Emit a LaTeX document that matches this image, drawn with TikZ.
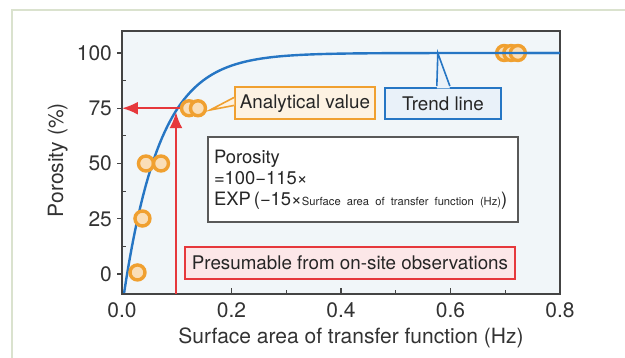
\documentclass[tikz,border=0pt]{standalone}
\usepackage{fontspec}
\setmainfont{TeX Gyre Heros}
\usetikzlibrary{arrows.meta,positioning,calc}

\definecolor{trendblue}{RGB}{38,118,196}
\definecolor{dotorange}{RGB}{240,160,48}
\definecolor{markred}{RGB}{230,56,60}
\definecolor{axisgray}{RGB}{68,68,68}
\definecolor{framegreen}{RGB}{218,226,206}
\definecolor{plotbg}{RGB}{241,246,249}

\tikzset{
	datadot/.style={circle, draw=dotorange, fill=dotorange!35, line width=1.7pt, minimum size=7.5pt, inner sep=0pt},
	tagbox/.style={line width=1pt, inner sep=0pt, minimum height=16pt, font=\fontsize{9.4}{11}\selectfont, text=black!85},
	readarrow/.style={markred, line width=1pt, -{Latex[length=8pt,width=6.5pt]}}
}

\begin{document}
\begin{tikzpicture}[xscale=9.6213, yscale=0.038837]
	\useasboundingbox (-0.2228,-38.01) rectangle (0.9187,123.98);
	%outer frame
	\draw[framegreen, line width=0.6pt] (-0.2009,-38.01) -- (-0.2009,119.46) -- (0.9187,119.46);
	
	%plot area
	\fill[plotbg] (0,-9.05) rectangle (0.8,109.95);
	
	%axes
	\foreach \x in {0.2, 0.4, 0.6}{
		\draw[axisgray, line width=0.6pt](\x, -9.05)--(\x, -6.3);
	}
	\foreach \x in {0.1, 0.3, 0.5, 0.7}{
		\draw[axisgray, line width=0.6pt](\x, -9.05)--(\x, -7.2);
	}
	\foreach \x in {0.0, 0.2, 0.4, 0.6, 0.8}{
		\node[font=\fontsize{10.5}{12}\selectfont, text=black!80] at (\x, -16.3){\x};
	}
	\foreach \y in {0, 25, 50, 75, 100}{
		\draw[axisgray, line width=0.6pt](-0.0091, \y)--(0, \y);
		\node[anchor=east, font=\fontsize{10.5}{12}\selectfont, text=black!80] at (-0.0055, \y){\y};
	}
	\foreach \y in {12.5, 37.5, 62.5, 87.5}{
		\draw[axisgray, line width=0.6pt](0, \y)--(0.0073, \y);
	}
	\node[rotate=90, font=\fontsize{10.5}{12}\selectfont, text=black!80] (ylab) at (-0.1175, 51.5){Porosity (\%)};
	\node[font=\fontsize{10.5}{12}\selectfont, text=black!80] (xlab) at (0.4183, -28.8){Surface area of transfer function (Hz)};
	
	%trend curve
	\begin{scope}
		\clip (0,-9.05) rectangle (0.8,109.95);
		\draw[trendblue, line width=1.2pt] plot[domain=0.003:0.8, samples=160] (\x, {100-115*exp(-15*\x)});
	\end{scope}
	\draw[axisgray, line width=0.7pt] (0,-9.05) rectangle (0.8,109.95);
	
	%reading arrows
	\coordinate (xfoot) at (0.0986, -9.05);
	\coordinate (xtop) at (0.0986, 73.2);
	\coordinate (yhit) at (0, 75);
	\coordinate (p75) at (0.1224, 75);
	\draw[readarrow] (xfoot) -- (xtop);
	\draw[readarrow] (p75) -- (yhit);
	
	%observed points
	\node at (0.0283, 0.7) [datadot] (p0){};
	\node at (0.0374, 25.1) [datadot] (p25){};
	\node at (0.0438, 50) [datadot] (p50a){};
	\node at (0.0712, 50) [datadot] (p50b){};
	\node at (0.1224, 75) [datadot] (p75a){};
	\node at (0.1388, 75) [datadot] (p75b){};
	\node at (0.6980, 100) [datadot] (p100a){};
	\node at (0.7110, 100) [datadot] (p100b){};
	\node at (0.7230, 100) [datadot] (p100c){};
	\draw[trendblue, line width=1.2pt] (p100a.west) -- (0.8,100);
	
	%labels
	\node[tagbox, draw=dotorange, fill=dotorange!14, minimum width=70pt] (analytic) at (0.3342, 77.15){Analytical value};
	\node[tagbox, draw=trendblue, fill=trendblue!10, minimum width=58pt, minimum height=15.5pt, right=4pt of analytic] (trend){Trend line};
	\coordinate (anatip) at (0.1610, 74.2);
	\fill[dotorange!14] ($(analytic.west)+(0.001,2.7)$) -- (anatip) -- ($(analytic.west)+(0.001,-0.9)$) -- cycle;
	\draw[dotorange, line width=0.8pt] ($(analytic.west)+(0,2.7)$) -- (anatip) -- ($(analytic.west)+(0,-0.9)$);
	\coordinate (trendtip) at (0.5770, 99.9);
	\fill[trendblue!10] ($(trend.north)+(-0.011,-0.6)$) -- (trendtip) -- ($(trend.north)+(0.0128,-0.6)$) -- cycle;
	\draw[trendblue, line width=0.8pt] ($(trend.north)+(-0.011,0.4)$) -- (trendtip) -- ($(trend.north)+(0.0128,0.4)$);
	
	\node[draw=black!65, line width=1pt, fill=white, minimum width=155pt, minimum height=42.5pt, inner xsep=3pt, text width=149pt, align=left, font=\fontsize{9.2}{10.6}\selectfont, text=black!85] (formula) at (0.4402, 42.76){Porosity\\
		=100−115×\\
		EXP\,(−15×{\fontsize{5.6}{6}\selectfont Surface area of transfer function (Hz)})};
	
	\node[tagbox, draw=markred, fill=markred!12, minimum width=165pt] (onsite) at (0.4164, 4.98){Presumable from on-site observations};
	
\end{tikzpicture}
\end{document}
